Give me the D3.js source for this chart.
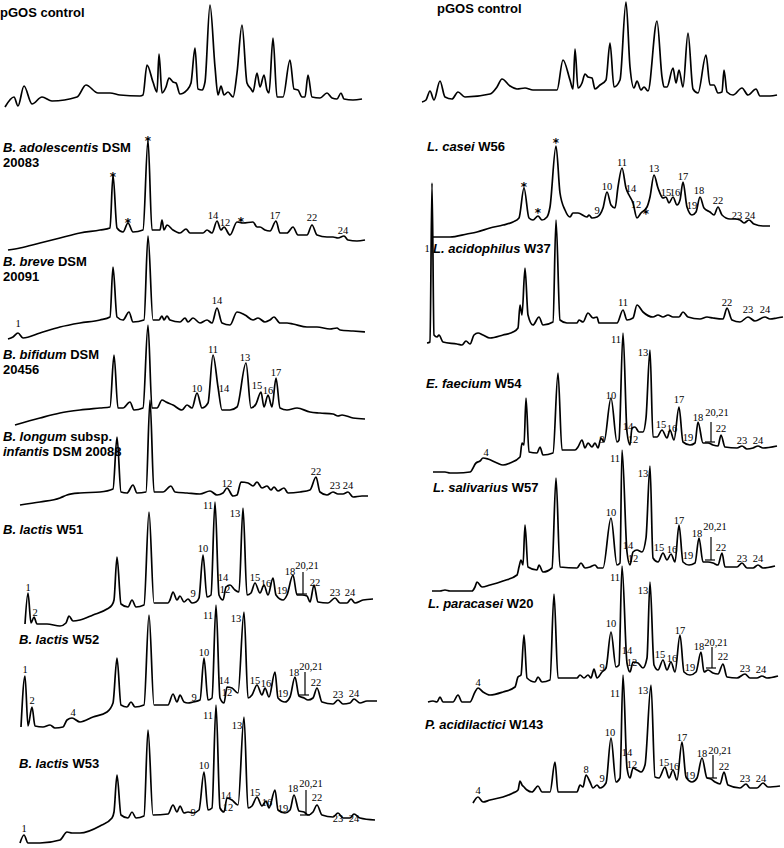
<!DOCTYPE html>
<html>
<head>
<meta charset="utf-8">
<script src="https://cdn.jsdelivr.net/npm/d3@7"></script>
<style>
  body { margin: 0; background: #fff; }
  .trace { fill: none; stroke: #000; stroke-width: 1.7; stroke-linejoin: round; }
  .peak { font-family: "Liberation Serif", "Times New Roman", serif; font-size: 10.5px; fill: #000; }
  .star { font-family: "DejaVu Sans", sans-serif; font-size: 12px; font-weight: bold; fill: #000; }
  .name { font-family: "Liberation Sans", Arial, sans-serif; font-size: 13px; font-weight: bold; fill: #000; }
  .mark { stroke: #000; stroke-width: 1.2; }
</style>
</head>
<body>
<script>
// retention (arb. units) , detector signal (arb. units)
// left column
const pgosA = [[5,3],[14,13],[18,4],[24,24],[32,6],[42,13],[52,9],[77,13],[86,25],[98,17],[110,17],[120,15],[140,14],[143,15],[147,45],[153,28],[157,18],[159,56],[162,17],[166,23],[169,32],[173,28],[176,27],[180,16],[187,20],[191,27],[195,62],[198,21],[202,20],[205,28],[210,105],[215,43],[218,15],[221,24],[224,15],[228,18],[233,13],[237,37],[242,85],[247,27],[251,21],[253,18],[257,37],[260,23],[264,35],[267,20],[269,17],[273,72],[277,13],[283,13],[290,50],[294,21],[298,20],[302,13],[305,13],[308,35],[312,13],[320,12],[327,17],[332,12],[337,11],[341,17],[344,11],[353,10],[362,11]];

const adolescentis = [[8,2],[20,4],[40,9],[60,14],[80,19],[100,22],[110,24],[113,77],[117,24],[123,20],[128,29],[133,20],[143,22],[148,112],[152,22],[157,22],[160,22],[162,32],[164,22],[167,27],[173,22],[180,19],[186,23],[190,19],[203,19],[207,22],[212,19],[217,31],[221,22],[224,25],[230,17],[237,30],[243,29],[253,30],[257,25],[260,25],[265,22],[270,21],[276,31],[280,19],[287,19],[293,25],[298,17],[307,17],[312,27],[317,17],[327,15],[333,15],[338,14],[344,16],[348,12],[357,11],[365,12]];
const adolescentisLabels = [[113,80,'*'],[128,34,'*'],[148,116,'*'],[241,35,'*'],[213,37,'14'],[225,30,'12'],[275,37,'17'],[312,35,'22'],[343,22,'24']];

const breve = [[8,3],[13,5],[18,9],[23,4],[40,9],[60,15],[80,19],[100,22],[110,25],[113,75],[117,25],[123,22],[129,30],[133,20],[144,22],[148,106],[153,22],[159,22],[162,26],[164,22],[167,26],[170,22],[180,20],[185,24],[188,20],[193,24],[200,19],[207,22],[212,19],[217,34],[222,19],[230,17],[237,30],[245,27],[253,22],[258,24],[265,20],[270,22],[274,25],[280,19],[287,19],[293,18],[307,15],[317,15],[330,13],[337,14],[340,12],[353,11],[365,10]];
const breveLabels = [[18,19,'1'],[217,42,'14']];

const bifidum = [[15,3],[40,10],[60,15],[80,18],[100,20],[110,21],[114,73],[118,20],[123,20],[130,26],[134,18],[143,20],[148,103],[152,20],[157,20],[162,28],[166,26],[173,23],[182,18],[187,23],[192,20],[197,35],[202,20],[208,25],[213,73],[218,41],[222,18],[230,18],[237,21],[246,65],[251,20],[256,24],[261,36],[264,21],[268,33],[272,21],[276,50],[280,20],[287,18],[297,20],[310,16],[320,15],[333,14],[338,12],[342,13],[353,10],[365,9]];
const bifidumLabels = [[197,40,'10'],[213,79,'11'],[224,40,'14'],[245,71,'13'],[257,43,'15'],[268,38,'16'],[276,56,'17']];

const infantis = [[20,3],[40,6],[60,10],[67,13],[80,15],[100,16],[113,19],[117,71],[121,16],[127,15],[133,23],[137,15],[146,16],[150,108],[154,16],[163,16],[171,22],[175,16],[187,15],[200,14],[210,17],[217,13],[223,15],[227,20],[233,12],[237,13],[241,26],[248,25],[253,22],[257,26],[262,20],[267,22],[271,18],[274,21],[278,17],[284,20],[288,15],[300,16],[310,18],[316,31],[320,16],[327,13],[333,16],[338,14],[343,14],[348,16],[353,11],[362,12],[368,12]];
const infantisLabels = [[227,25,'12'],[316,37,'22'],[335,23,'23'],[348,23,'24']];

const w51 = [[25,6],[28,37],[31,7],[34,13],[37,6],[47,6],[60,4],[66,7],[69,14],[73,9],[80,10],[93,15],[107,21],[112,25],[114,30],[117,73],[121,26],[128,23],[132,30],[136,23],[144,25],[149,118],[154,27],[168,27],[170,30],[173,38],[177,30],[180,34],[184,28],[188,31],[192,27],[196,28],[199,32],[203,75],[207,33],[211,35],[215,128],[219,35],[223,30],[226,43],[230,45],[235,40],[239,38],[243,122],[247,35],[251,37],[255,47],[260,37],[264,45],[268,35],[273,52],[276,35],[283,30],[287,35],[293,55],[297,35],[302,35],[307,34],[310,28],[314,45],[318,28],[328,27],[335,32],[340,27],[347,27],[351,31],[355,27],[363,30],[373,31]];
const w51Labels = [[28,43,'1'],[35,18,'2'],[193,37,'9'],[203,82,'10'],[208,125,'11'],[223,53,'14'],[225,41,'12'],[235,117,'13'],[255,53,'15'],[266,47,'16'],[282,40,'19'],[290,59,'18'],[307,65,'20,21'],[315,48,'22'],[335,38,'23'],[350,38,'24']];

const w52 = [[21,3],[25,54],[28,4],[32,23],[35,4],[43,3],[50,5],[55,2],[63,3],[67,10],[72,12],[80,8],[93,13],[107,18],[113,27],[117,72],[121,25],[127,23],[131,28],[135,23],[144,25],[149,115],[154,25],[168,25],[173,36],[177,28],[180,35],[184,28],[188,27],[193,28],[200,30],[204,72],[208,30],[212,32],[216,125],[220,32],[224,27],[227,43],[232,42],[238,37],[244,118],[248,32],[252,35],[257,45],[262,35],[265,42],[269,33],[275,58],[278,32],[285,28],[290,33],[295,53],[299,34],[304,32],[308,30],[313,32],[317,42],[322,28],[333,26],[338,30],[343,26],[350,27],[354,31],[360,27],[367,29],[377,29]];
const w52Labels = [[25,61,'1'],[32,30,'2'],[73,18,'4'],[194,33,'9'],[204,78,'10'],[208,115,'11'],[224,50,'14'],[227,38,'12'],[236,112,'13'],[255,50,'15'],[266,47,'16'],[283,37,'19'],[294,58,'18'],[311,64,'20,21'],[316,48,'22'],[338,36,'23'],[354,37,'24']];

const w53 = [[20,2],[24,10],[28,2],[40,2],[60,5],[67,13],[72,12],[80,12],[100,19],[112,27],[114,33],[117,70],[121,30],[128,27],[132,33],[136,27],[144,29],[148,115],[153,30],[168,31],[173,40],[177,33],[180,39],[184,32],[188,33],[193,32],[199,35],[204,73],[208,35],[212,37],[216,140],[220,37],[224,33],[227,47],[232,45],[238,40],[244,128],[248,37],[252,39],[257,48],[262,39],[266,44],[269,37],[275,55],[278,35],[285,32],[290,35],[294,50],[299,34],[304,33],[308,30],[313,33],[317,40],[322,30],[333,28],[338,32],[343,27],[350,27],[354,31],[360,27],[375,25]];
const w53Labels = [[24,17,'1'],[193,33,'9'],[204,80,'10'],[208,130,'11'],[237,120,'13'],[226,50,'14'],[228,38,'12'],[255,53,'15'],[267,43,'16'],[283,37,'19'],[293,57,'18'],[311,62,'20,21'],[317,48,'22'],[338,27,'23'],[354,27,'24']];

// right column
const pgosB = [[32,3],[36,5],[40,14],[44,5],[50,24],[55,8],[62,6],[68,13],[75,8],[100,11],[107,18],[112,26],[120,19],[127,16],[135,17],[143,15],[167,15],[173,45],[180,25],[183,16],[185,56],[188,17],[192,22],[195,31],[198,28],[202,27],[205,16],[210,20],[216,25],[220,62],[224,18],[230,25],[236,103],[240,38],[244,17],[247,24],[251,15],[254,18],[258,14],[267,84],[272,28],[274,18],[277,18],[283,37],[286,22],[289,35],[293,18],[298,72],[303,16],[308,12],[316,50],[320,20],[324,20],[328,12],[332,13],[334,35],[337,13],[343,10],[352,17],[358,10],[366,16],[370,9],[380,9],[387,10]];

const casei = [[43,3],[60,3],[77,6],[87,8],[100,12],[113,15],[123,18],[129,22],[134,52],[139,22],[143,20],[148,24],[152,20],[157,23],[160,33],[166,94],[170,47],[175,30],[180,23],[183,27],[188,27],[197,23],[199,25],[202,22],[207,23],[213,32],[217,48],[221,35],[225,32],[228,53],[232,72],[236,52],[239,45],[243,37],[247,22],[251,27],[257,33],[260,43],[264,65],[268,52],[273,42],[276,43],[279,37],[283,43],[287,35],[290,40],[293,58],[297,33],[302,25],[306,28],[310,43],[314,32],[320,28],[324,25],[328,33],[332,25],[340,21],[345,21],[350,20],[354,17],[359,20],[364,16],[373,14],[380,14]];
const caseiLabels = [[134,58,'*'],[148,32,'*'],[166,102,'*'],[207,30,'9'],[217,54,'10'],[232,78,'11'],[241,52,'14'],[246,36,'12'],[256,31,'*'],[264,72,'13'],[276,48,'15'],[285,48,'16'],[293,64,'17'],[302,35,'19'],[309,50,'18'],[328,40,'22'],[347,25,'23'],[360,25,'24']];

const acidophilus = [[37,5],[40,6],[42,165],[44,13],[47,11],[49,13],[53,6],[67,4],[72,3],[76,7],[80,4],[84,13],[88,15],[93,13],[100,10],[113,13],[123,16],[128,20],[130,43],[132,33],[135,80],[138,33],[143,23],[149,31],[153,23],[163,26],[166,128],[170,28],[177,25],[187,25],[189,28],[193,26],[198,35],[203,30],[207,31],[209,25],[227,25],[233,38],[237,28],[243,30],[247,43],[253,36],[263,31],[268,33],[273,31],[278,33],[283,31],[289,31],[293,36],[298,31],[310,29],[317,31],[323,30],[333,29],[337,40],[342,28],[350,26],[358,31],[365,27],[375,31],[380,29],[387,30],[393,31]];
const acidophilusLabels = [[37,100,'1'],[233,46,'11'],[337,46,'22'],[358,39,'23'],[375,39,'24']];

const faecium = [[43,4],[50,4],[55,4],[60,3],[67,3],[80,4],[86,13],[90,15],[93,18],[98,17],[107,13],[113,11],[120,13],[130,19],[132,33],[134,31],[136,78],[139,24],[147,23],[150,29],[153,21],[163,23],[168,103],[172,26],[185,26],[188,29],[192,36],[195,28],[198,33],[202,29],[205,33],[208,28],[211,38],[214,34],[221,78],[227,34],[229,36],[233,143],[237,44],[240,31],[242,48],[245,49],[249,44],[253,44],[256,58],[260,126],[263,39],[267,39],[272,46],[277,38],[280,46],[284,36],[289,69],[293,34],[300,31],[305,33],[308,54],[313,33],[318,33],[323,31],[328,30],[331,41],[335,29],[347,28],[352,30],[357,27],[363,28],[368,30],[373,28],[387,30]];
const faeciumLabels = [[96,24,'4'],[212,37,'9'],[221,81,'10'],[226,137,'11'],[238,50,'14'],[243,37,'12'],[253,124,'13'],[271,52,'15'],[282,48,'16'],[289,77,'17'],[298,39,'19'],[308,59,'18'],[327,64,'20,21'],[331,48,'22'],[352,36,'23'],[368,36,'24']];

const salivarius = [[42,4],[50,4],[55,5],[60,4],[82,4],[85,8],[87,13],[92,8],[100,10],[113,14],[127,20],[129,28],[131,35],[133,30],[135,70],[138,28],[147,25],[149,30],[153,23],[162,27],[166,117],[170,28],[187,27],[191,32],[195,27],[200,28],[205,30],[208,27],[213,27],[221,77],[227,30],[230,32],[232,145],[237,43],[240,30],[243,43],[247,45],[252,43],[256,57],[260,129],[263,37],[268,33],[273,42],[277,35],[281,41],[285,33],[289,70],[293,33],[299,30],[305,32],[309,57],[313,33],[318,33],[323,32],[328,30],[332,42],[335,28],[347,28],[352,32],[357,27],[363,27],[368,30],[373,27],[385,29]];
const salivariusLabels = [[221,83,'10'],[225,137,'11'],[238,50,'14'],[243,37,'12'],[253,122,'13'],[269,48,'15'],[282,46,'16'],[289,75,'17'],[298,40,'19'],[307,62,'18'],[325,69,'20,21'],[331,48,'22'],[352,37,'23'],[368,37,'24']];

const paracasei = [[38,3],[43,4],[47,3],[50,8],[53,3],[63,3],[68,10],[72,3],[80,3],[85,13],[88,17],[93,13],[100,10],[113,13],[125,18],[128,28],[131,30],[134,70],[137,27],[145,23],[148,28],[152,23],[160,25],[164,111],[168,27],[187,27],[190,30],[194,27],[198,30],[201,27],[204,36],[207,27],[212,33],[216,37],[221,73],[226,38],[229,40],[232,139],[237,42],[240,33],[243,43],[248,42],[253,37],[257,47],[260,123],[264,40],[268,35],[273,45],[277,35],[281,43],[285,33],[290,70],[294,33],[300,30],[306,33],[311,53],[314,33],[318,35],[323,32],[328,31],[333,41],[337,28],[347,27],[355,31],[360,27],[367,27],[372,29],[377,27],[388,29]];
const paracaseiLabels = [[88,23,'4'],[212,38,'9'],[221,82,'10'],[225,128,'11'],[237,55,'14'],[242,43,'12'],[253,115,'13'],[270,51,'15'],[282,47,'16'],[290,75,'17'],[300,38,'19'],[309,59,'18'],[326,63,'20,21'],[333,49,'22'],[355,37,'23'],[371,36,'24']];

const acidilactici = [[83,7],[88,13],[93,8],[100,10],[113,13],[123,17],[128,20],[130,29],[132,25],[134,23],[137,20],[142,18],[148,24],[152,18],[160,18],[165,48],[168,18],[187,18],[190,25],[193,23],[196,35],[200,28],[203,22],[207,25],[210,22],[216,27],[221,72],[226,28],[230,32],[233,135],[237,42],[240,32],[243,42],[247,40],[251,38],[255,45],[261,125],[265,33],[269,32],[275,43],[279,32],[283,40],[287,30],[292,68],[296,33],[302,28],[307,32],[312,52],[317,32],[321,31],[325,28],[330,26],[334,38],[338,25],[350,22],[356,26],[360,22],[367,22],[373,27],[378,23],[390,24]];
const acidilacticiLabels = [[88,20,'4'],[196,41,'8'],[212,32,'9'],[220,78,'10'],[225,117,'11'],[237,58,'14'],[242,46,'12'],[253,120,'13'],[274,48,'15'],[284,44,'16'],[292,73,'17'],[300,35,'19'],[312,57,'18'],[330,60,'20,21'],[334,44,'22'],[355,32,'23'],[371,32,'24']];

// "20,21" brackets: retention, upper and lower signal
const w51Mark = [[303,58,36]];
const w52Mark = [[305,58,35]];
const w53Mark = [[306,55,30]];
const faeciumMark = [[321,54,34]];
const salivariusMark = [[321,58,35]];
const paracaseiMark = [[322,58,37]];
const acidilacticiMark = [[323,55,32]];

// panel layout
const panels = [
    {col: 0, base: 110, trace: pgosA, labels: [], marks: [], nameX: 0, nameY: 17,
        name: [[['pGOS control', false]]]},
    {col: 0, base: 252, trace: adolescentis, labels: adolescentisLabels, marks: [], nameX: 3, nameY: 152,
        name: [[['B. adolescentis', true], [' DSM', false]], [['20083', false]]]},
    {col: 0, base: 342, trace: breve, labels: breveLabels, marks: [], nameX: 3, nameY: 266,
        name: [[['B. breve', true], [' DSM', false]], [['20091', false]]]},
    {col: 0, base: 428, trace: bifidum, labels: bifidumLabels, marks: [], nameX: 3, nameY: 359,
        name: [[['B. bifidum', true], [' DSM', false]], [['20456', false]]]},
    {col: 0, base: 508, trace: infantis, labels: infantisLabels, marks: [], nameX: 3, nameY: 441,
        name: [[['B. longum', true], [' subsp.', false]], [['infantis', true], [' DSM 20088', false]]]},
    {col: 0, base: 630, trace: w51, labels: w51Labels, marks: w51Mark, nameX: 3, nameY: 534,
        name: [[['B. lactis', true], [' W51', false]]]},
    {col: 0, base: 730, trace: w52, labels: w52Labels, marks: w52Mark, nameX: 19, nameY: 644,
        name: [[['B. lactis', true], [' W52', false]]]},
    {col: 0, base: 845, trace: w53, labels: w53Labels, marks: w53Mark, nameX: 19, nameY: 768,
        name: [[['B. lactis', true], [' W53', false]]]},
    {col: 1, base: 105, trace: pgosB, labels: [], marks: [], nameX: 437, nameY: 13,
        name: [[['pGOS control', false]]]},
    {col: 1, base: 240, trace: casei, labels: caseiLabels, marks: [], nameX: 427, nameY: 151,
        name: [[['L. casei', true], [' W56', false]]]},
    {col: 1, base: 348, trace: acidophilus, labels: acidophilusLabels, marks: [], nameX: 433, nameY: 253,
        name: [[['L. acidophilus', true], [' W37', false]]]},
    {col: 1, base: 476, trace: faecium, labels: faeciumLabels, marks: faeciumMark, nameX: 426, nameY: 388,
        name: [[['E. faecium', true], [' W54', false]]]},
    {col: 1, base: 595, trace: salivarius, labels: salivariusLabels, marks: salivariusMark, nameX: 433, nameY: 492,
        name: [[['L. salivarius', true], [' W57', false]]]},
    {col: 1, base: 705, trace: paracasei, labels: paracaseiLabels, marks: paracaseiMark, nameX: 428, nameY: 608,
        name: [[['L. paracasei', true], [' W20', false]]]},
    {col: 1, base: 810, trace: acidilactici, labels: acidilacticiLabels, marks: acidilacticiMark, nameX: 425, nameY: 729,
        name: [[['P. acidilactici', true], [' W143', false]]]}
];

const width = 784, height = 848;

const svg = d3.select('body').append('svg')
    .attr('width', width)
    .attr('height', height);

const xscales = [
    d3.scaleLinear().domain([0, 400]).range([0, 400]),
    d3.scaleLinear().domain([0, 400]).range([390, 790])
];

panels.forEach(p => {
    const x = xscales[p.col];
    const y = d3.scaleLinear().domain([0, 150]).range([p.base, p.base - 150]);
    const g = svg.append('g');

    // strain name, italic genus/species
    const name = g.append('text').attr('class', 'name');
    p.name.forEach((line, i) => {
        line.forEach((part, j) => {
            const ts = name.append('tspan')
                .style('font-style', part[1] ? 'italic' : 'normal')
                .text(part[0]);
            if (j === 0) ts.attr('x', p.nameX).attr('y', p.nameY + i * 14.5);
        });
    });

    const line = d3.line()
        .x(d => x(d[0]))
        .y(d => y(d[1]))
        .curve(d3.curveMonotoneX);

    g.append('path')
        .datum(p.trace)
        .attr('class', 'trace')
        .attr('d', line);

    g.selectAll('.peak')
        .data(p.labels)
        .join('text')
        .attr('class', d => d[2] === '*' ? 'star' : 'peak')
        .attr('x', d => x(d[0]))
        .attr('y', d => y(d[1]))
        .attr('dy', d => d[2] === '*' ? '0.72em' : '0.35em')
        .attr('text-anchor', 'middle')
        .text(d => d[2]);

    // bracket for the co-eluting 20,21
    p.marks.forEach(m => {
        g.append('line').attr('class', 'mark')
            .attr('x1', x(m[0])).attr('x2', x(m[0]))
            .attr('y1', y(m[1])).attr('y2', y(m[2]));
        g.append('line').attr('class', 'mark')
            .attr('x1', x(m[0] - 6)).attr('x2', x(m[0] + 4))
            .attr('y1', y(m[2])).attr('y2', y(m[2]));
    });
});
</script>
</body>
</html>
